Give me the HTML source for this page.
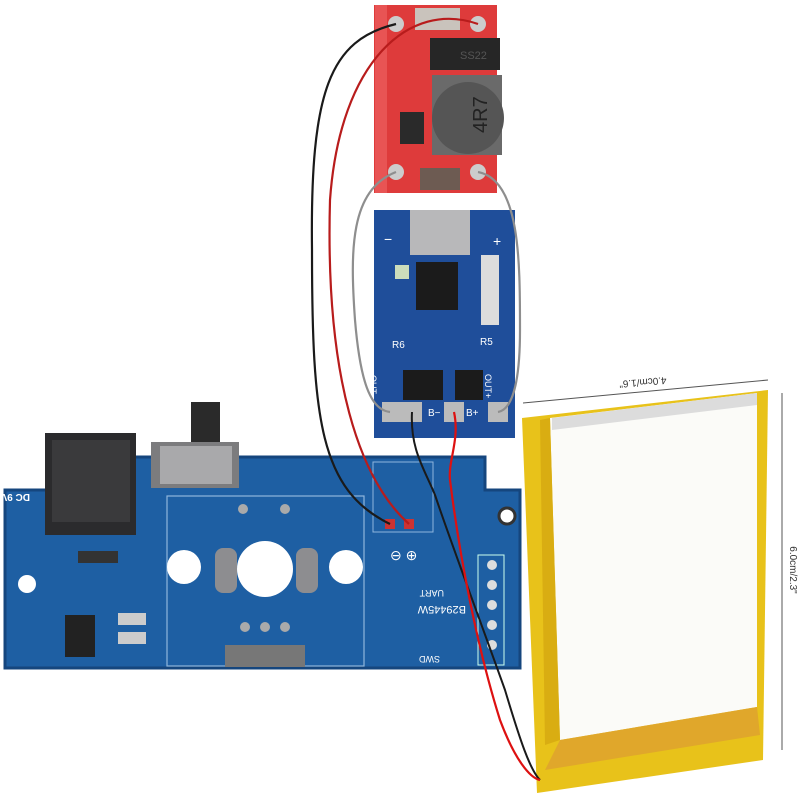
<!DOCTYPE html>
<html><head><style>html,body{margin:0;padding:0;background:#fff;width:800px;height:800px;overflow:hidden}</style></head>
<body>
<svg width="800" height="800" viewBox="0 0 800 800" xmlns="http://www.w3.org/2000/svg" font-family="Liberation Sans, sans-serif">
<rect width="800" height="800" fill="#fff"/>
<!-- main PCB -->
<path d="M5 490 L48 490 L48 457 L485 457 L485 490 L520 490 L520 668 L5 668 Z" fill="#1e5fa3"/>
<path d="M5 490 L48 490 L48 457 L485 457 L485 490 L520 490 L520 668 L5 668 Z" fill="none" stroke="#15467e" stroke-width="3"/>
<rect x="167" y="496" width="197" height="170" fill="none" stroke="#8fb6dc" stroke-width="1.2"/>
<rect x="373" y="462" width="60" height="70" fill="none" stroke="#8fb6dc" stroke-width="1"/>
<!-- DC jack -->
<rect x="45" y="433" width="91" height="102" fill="#2b2b2d"/>
<rect x="52" y="440" width="78" height="82" fill="#3a3a3c"/>
<text x="14" y="500" font-size="10" fill="#fff" font-weight="bold" transform="rotate(180 22 497)">DC 9V</text>
<!-- switch -->
<rect x="191" y="402" width="29" height="45" fill="#2a2a2a"/>
<rect x="151" y="442" width="88" height="46" fill="#7c7c7e"/>
<rect x="160" y="446" width="72" height="38" fill="#a9a9ab"/>
<!-- holes -->
<circle cx="184" cy="567" r="17" fill="#fff"/>
<circle cx="265" cy="569" r="28" fill="#fff"/>
<circle cx="346" cy="567" r="17" fill="#fff"/>
<circle cx="507" cy="516" r="8" fill="#fff" stroke="#333" stroke-width="3"/>
<circle cx="27" cy="584" r="9" fill="#fff"/>
<rect x="215" y="548" width="22" height="45" rx="8" fill="#8d8d90"/>
<rect x="296" y="548" width="22" height="45" rx="8" fill="#8d8d90"/>
<!-- components -->
<rect x="65" y="615" width="30" height="42" fill="#222"/>
<rect x="118" y="613" width="28" height="12" fill="#ccc"/>
<rect x="118" y="632" width="28" height="12" fill="#ccc"/>
<rect x="78" y="551" width="40" height="12" fill="#333"/>
<rect x="225" y="645" width="80" height="22" fill="#777"/>
<circle cx="245" cy="627" r="5" fill="#aaa"/><circle cx="265" cy="627" r="5" fill="#aaa"/><circle cx="285" cy="627" r="5" fill="#aaa"/>
<circle cx="243" cy="509" r="5" fill="#aaa"/><circle cx="285" cy="509" r="5" fill="#aaa"/>
<rect x="478" y="555" width="26" height="110" fill="none" stroke="#cfe" stroke-width="1"/>
<circle cx="492" cy="565" r="5" fill="#ddd"/><circle cx="492" cy="585" r="5" fill="#ddd"/><circle cx="492" cy="605" r="5" fill="#ddd"/><circle cx="492" cy="625" r="5" fill="#ddd"/><circle cx="492" cy="645" r="5" fill="#ddd"/>
<text x="440" y="614" font-size="11" fill="#fff" transform="rotate(180 453 610)">B29445W</text>
<text x="424" y="598" font-size="9" fill="#fff" transform="rotate(180 434 594)">UART</text>
<text x="420" y="664" font-size="9" fill="#fff" transform="rotate(180 430 660)">SWD</text>
<text x="390" y="560" font-size="14" fill="#fff">⊖ ⊕</text>
<rect x="385" y="519" width="10" height="10" fill="#c33"/><rect x="404" y="519" width="10" height="10" fill="#c33"/>
<!-- red boost board -->
<rect x="374" y="5" width="123" height="188" fill="#de3b3b"/>
<rect x="375" y="5" width="12" height="188" fill="#e85454"/>
<rect x="430" y="38" width="70" height="32" fill="#262626"/>
<text x="460" y="59" font-size="11" fill="#555">SS22</text>
<rect x="432" y="75" width="70" height="80" fill="#6a6a6a"/>
<circle cx="468" cy="118" r="36" fill="#555"/>
<text x="455" y="135" font-size="20" fill="#222" transform="rotate(-90 470 118)">4R7</text>
<rect x="400" y="112" width="24" height="32" fill="#2a2a2a"/>
<rect x="415" y="8" width="45" height="22" fill="#c9c3bc"/>
<rect x="420" y="168" width="40" height="22" fill="#6d5b52"/>
<circle cx="396" cy="24" r="8" fill="#ccc"/><circle cx="478" cy="24" r="8" fill="#ccc"/>
<circle cx="396" cy="172" r="8" fill="#ccc"/><circle cx="478" cy="172" r="8" fill="#ccc"/>
<!-- blue TP4056 -->
<rect x="374" y="210" width="141" height="228" fill="#1f4e9a"/>
<rect x="410" y="210" width="60" height="45" fill="#b8b8ba"/>
<rect x="416" y="262" width="42" height="48" fill="#1b1b1b"/>
<rect x="403" y="370" width="40" height="30" fill="#1b1b1b"/>
<rect x="455" y="370" width="28" height="30" fill="#1b1b1b"/>
<rect x="481" y="255" width="18" height="70" fill="#dcdcdc"/>
<rect x="395" y="265" width="14" height="14" fill="#cdb"/>
<text x="384" y="244" font-size="14" fill="#fff">−</text><text x="493" y="246" font-size="14" fill="#fff">+</text>
<text x="392" y="348" font-size="10" fill="#fff">R6</text><text x="480" y="345" font-size="10" fill="#fff">R5</text>
<text x="380" y="395" font-size="9" fill="#fff" transform="rotate(90 385 380)">OUT-</text>
<text x="494" y="395" font-size="9" fill="#fff" transform="rotate(90 500 380)">OUT+</text>
<rect x="382" y="402" width="20" height="20" fill="#bbb"/><rect x="402" y="402" width="20" height="20" fill="#bbb"/>
<rect x="444" y="402" width="20" height="20" fill="#bbb"/><rect x="488" y="402" width="20" height="20" fill="#bbb"/>
<text x="428" y="416" font-size="10" fill="#fff">B−</text><text x="466" y="416" font-size="10" fill="#fff">B+</text>
<!-- battery -->
<polygon points="522,418 768,390 763,760 537,793" fill="#e8c21a"/>
<polygon points="550,418 757,393 757,707 560,740" fill="#fbfbf8"/>
<polygon points="552,418 757,393 757,405 552,430" fill="#dcdcdc"/>
<polygon points="540,420 550,418 560,740 545,745" fill="#d9ad12"/>
<polygon points="560,740 757,707 760,735 545,770" fill="#e0a72b"/>
<!-- dimensions -->
<line x1="523" y1="403" x2="768" y2="380" stroke="#555" stroke-width="1"/>
<line x1="782" y1="393" x2="782" y2="750" stroke="#555" stroke-width="1"/>
<text x="643" y="387" font-size="10" fill="#333" text-anchor="middle" transform="rotate(175 643 383)">4.0cm/1.6"</text>
<text x="790" y="570" font-size="10" fill="#333" text-anchor="middle" transform="rotate(90 790 570)">6.0cm/2.3"</text>
<!-- wires -->
<path d="M396 24 C330 40 310 90 312 250 C312 420 320 490 390 524" fill="none" stroke="#1a1a1a" stroke-width="2.2"/>
<path d="M478 24 C410 0 340 60 330 200 C325 380 360 480 409 524" fill="none" stroke="#b81c1c" stroke-width="2.2"/>
<path d="M396 172 C350 190 350 250 355 320 C360 380 370 410 390 412" fill="none" stroke="#8e8e8e" stroke-width="2.2"/>
<path d="M478 172 C520 180 520 260 520 330 C520 390 510 410 498 412" fill="none" stroke="#8e8e8e" stroke-width="2.2"/>
<path d="M412 412 C410 450 425 470 435 495 C450 540 480 620 505 690 C520 740 530 770 540 780" fill="none" stroke="#1a1a1a" stroke-width="2"/>
<path d="M454 412 C460 440 448 460 450 480 C460 560 478 650 500 720 C515 760 530 778 540 780" fill="none" stroke="#d11" stroke-width="2.2"/>
</svg>
</body></html>
